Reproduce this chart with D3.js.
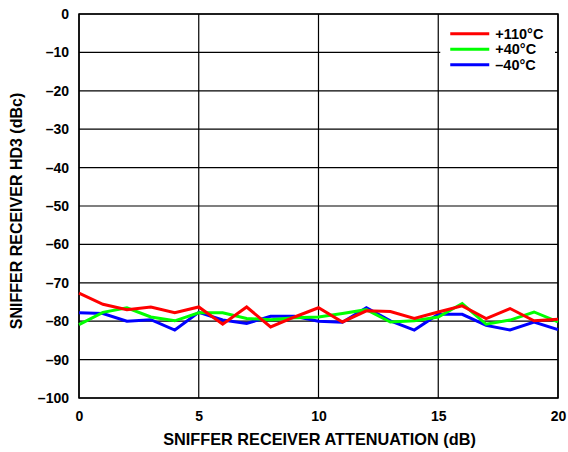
<!DOCTYPE html>
<html>
<head>
<meta charset="utf-8">
<script src="https://cdn.jsdelivr.net/npm/d3@7"></script>
<style>
  body { margin: 0; background: #fff; }
  text { font-family: "Liberation Sans", Arial, sans-serif; font-weight: bold; }
</style>
</head>
<body>
<div id="chart"></div>
<script>
// attenuation steps (dB)
const attenuation = d3.range(0, 21);

const hd3_110C = [-72.7, -75.6, -77.0, -76.3, -77.8, -76.3, -80.8, -76.3, -81.5, -78.9, -76.5,
  -80.2, -77.3, -77.5, -79.3, -77.6, -76.0, -79.3, -76.7, -79.9, -79.5];
const hd3_40C = [-80.9, -77.7, -76.5, -78.9, -79.9, -77.8, -77.8, -79.3, -79.6, -79.1, -78.9,
  -78.0, -77.0, -80.2, -79.9, -78.9, -75.4, -80.8, -79.7, -77.6, -80.2];
const hd3_m40C = [-77.8, -78.0, -80.0, -79.6, -82.3, -77.7, -79.7, -80.6, -78.7, -78.7, -80.0,
  -80.3, -76.5, -79.9, -82.3, -78.2, -78.2, -81.1, -82.3, -80.2, -82.2];

const xTicks = [0, 5, 10, 15, 20];
const yTicks = [0, -10, -20, -30, -40, -50, -60, -70, -80, -90, -100];

const series = [
  {name: '+110°C', color: '#ff0000', values: hd3_110C},
  {name: '+40°C', color: '#00ff00', values: hd3_40C},
  {name: '\u201340°C', color: '#0000ff', values: hd3_m40C}
];

const margin = {top: 14, right: 10, bottom: 54, left: 79};
const width = 558 - margin.left;
const height = 398 - margin.top;

const svg = d3.select('#chart')
    .append('svg')
    .attr('width', 568)
    .attr('height', 452)
    .append('g')
    .attr('transform', `translate(${margin.left},${margin.top})`);

const x = d3.scaleLinear().domain([0, 20]).range([0, width]);
const y = d3.scaleLinear().domain([-100, 0]).range([height, 0]);

// grid
svg.append('g')
    .selectAll('line')
    .data(yTicks)
    .enter()
    .append('line')
    .attr('x1', 0).attr('x2', width)
    .attr('y1', d => y(d)).attr('y2', d => y(d))
    .attr('stroke', '#000')
    .attr('stroke-width', 1.2);

svg.append('g')
    .selectAll('line')
    .data(xTicks)
    .enter()
    .append('line')
    .attr('x1', d => x(d)).attr('x2', d => x(d))
    .attr('y1', 0).attr('y2', height)
    .attr('stroke', '#000')
    .attr('stroke-width', 1.2);

// legend box (hides grid behind it)
const legend = svg.append('g').attr('transform', `translate(${x(15) + 2},${y(-1.5)})`);
legend.append('rect')
    .attr('width', width - x(15) - 5)
    .attr('height', 56)
    .attr('fill', '#fff');

series.forEach((s, i) => {
  const ly = 14 + i * 15.5;
  legend.append('line')
      .attr('x1', 10).attr('x2', 49)
      .attr('y1', ly).attr('y2', ly)
      .attr('stroke', s.color)
      .attr('stroke-width', 3);
  legend.append('text')
      .attr('x', 55)
      .attr('y', ly + 5)
      .attr('font-size', 14.5)
      .text(s.name);
});

// frame
svg.append('rect')
    .attr('width', width)
    .attr('height', height)
    .attr('fill', 'none')
    .attr('stroke', '#000')
    .attr('stroke-width', 1.5);

// axes
const xAxis = d3.axisBottom(x).tickValues(xTicks).tickSize(0).tickPadding(13);
const yAxis = d3.axisLeft(y).tickValues(yTicks).tickSize(0).tickPadding(10)
    .tickFormat(d => d < 0 ? '\u2013' + Math.abs(d) : d);

const gx = svg.append('g').attr('transform', `translate(0,${height})`).call(xAxis);
const gy = svg.append('g').call(yAxis);
[gx, gy].forEach(g => {
  g.select('.domain').remove();
  g.selectAll('text')
      .attr('font-size', 14)
      .attr('fill', '#000')
      .style('font-family', '"Liberation Sans", Arial, sans-serif')
      .style('font-weight', 'bold');
});

svg.append('text')
    .attr('x', width / 2 + 1)
    .attr('y', height + 47)
    .attr('text-anchor', 'middle')
    .attr('font-size', 16.3)
    .text('SNIFFER RECEIVER ATTENUATION (dB)');

svg.append('text')
    .attr('transform', 'rotate(-90)')
    .attr('x', -(height / 2 + 5))
    .attr('y', -57.5)
    .attr('text-anchor', 'middle')
    .attr('font-size', 16)
    .text('SNIFFER RECEIVER HD3 (dBc)');

// data lines
const line = d3.line()
    .x((d, i) => x(attenuation[i]))
    .y(d => y(d));

// draw blue first, then green, then red on top
[series[2], series[1], series[0]].forEach(s => {
  svg.append('path')
      .datum(s.values)
      .attr('fill', 'none')
      .attr('stroke', s.color)
      .attr('stroke-width', 3)
      .attr('stroke-linejoin', 'miter')
      .attr('d', line);
});
</script>
</body>
</html>
